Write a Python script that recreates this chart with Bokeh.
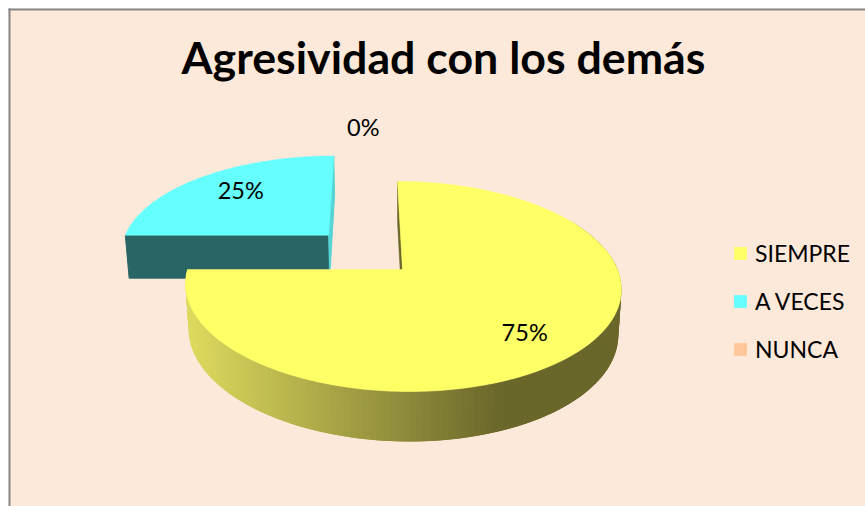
import numpy as np
from bokeh.plotting import figure
from bokeh.models import Range1d, Legend, LegendItem
from bokeh.core.properties import value
from bokeh.embed import file_html
from bokeh.resources import INLINE

# ---- data ----
categories = ["SIEMPRE", "A VECES", "NUNCA"]
values = [75, 25, 0]
labels = ["75%", "25%", "0%"]
title_text = "Agresividad con los demás"

# ---- style ----
top_colors = ["#FFFF66", "#66FFFF", "#FFC799"]
explode = [0.0, 0.5, 0.0]
label_r = [0.757, 0.706, 1.785]
label_shift = [3.6, 2.0, -6.0]
label_lift = 1.6
BG = "#FDE9D9"
FONT = "Lato"

# ---- projection of the tilted pie onto the page ----
CX, CY_T, CY_B = 402.0, 269.0, 313.4
R_T, R_B = 215.0, 212.0
S_T, S_B = 102.25, 106.9
K, SK = 0.162, -5.8


def proj(u, v, bottom=False):
    u, v = np.asarray(u, float), np.asarray(v, float)
    w = 1 + K * v
    R, S, cy = (R_B, S_B, CY_B) if bottom else (R_T, S_T, CY_T)
    return CX + (R * u + SK * v) / w, cy - S * v / w


def ring(deg, u0=0.0, v0=0.0, r=1.0):
    a = np.radians(deg)
    return u0 + r * np.sin(a), v0 + r * np.cos(a)


def side_color(x):
    # shading of the yellow rim, from light (left) to dark (right)
    t = np.clip((x - 190) / (500 - 190), 0, 1)
    c0, c1 = np.array([0xDD, 0xD9, 0x5E]), np.array([0x6A, 0x67, 0x2A])
    c = c0 + (c1 - c0) * t
    return "#%02x%02x%02x" % tuple(int(round(i)) for i in c)


p = figure(width=865, height=506, output_backend="svg", toolbar_location=None,
           x_range=Range1d(0, 865), y_range=Range1d(506, 0),
           min_border=0, background_fill_color="#FFFFFF", border_fill_color="#FFFFFF",
           outline_line_color=None)
p.axis.visible = False
p.grid.visible = False

# chart area with its frame lines along the top and left edge
p.quad(left=[8], right=[865], top=[8], bottom=[506], fill_color=BG, line_color=None)
p.line([8, 865], [9, 9], line_color="#868686", line_width=2)
p.line([9, 9], [8, 506], line_color="#868686", line_width=2)

ends = np.cumsum(values) * 360.0 / np.sum(values)
starts = np.concatenate([[0.0], ends[:-1]])
mids = (starts + ends) / 2
offs = [(e * np.sin(np.radians(m)), e * np.cos(np.radians(m))) for e, m in zip(explode, mids)]

# -- A VECES (behind) --
a0, a1 = starts[1], ends[1]
u0, v0 = offs[1]
ul, vl = ring(a0, u0, v0)
ur, vr = ring(a1, u0, v0)
xs, ys = proj([u0, ul], [v0, vl])
xb, yb = proj([u0, ul], [v0, vl], True)
p.patch(list(xs) + list(xb[::-1]), list(ys) + list(yb[::-1]), fill_color="#2A6565", line_color="#2A6565")
xs, ys = proj([u0, ur], [v0, vr])
xb, yb = proj([u0, ur], [v0, vr], True)
p.patch(list(xs) + list(xb[::-1]), list(ys) + list(yb[::-1]), fill_color="#55D5D5", line_color="#55D5D5")
d = np.linspace(a0, a1, 80)
uu, vv = ring(d, u0, v0)
x, y = proj(np.r_[u0, uu], np.r_[v0, vv])
p.patch(x, y, fill_color=top_colors[1], line_color=top_colors[1], line_width=0.5)

# -- SIEMPRE (front) --
a0, a1 = starts[0], ends[0]
# wall of the starting edge
xs, ys = proj([0, 0], [0, 1])
xb, yb = proj([0, 0], [0, 1], True)
p.patch(list(xs) + list(xb[::-1]), list(ys) + list(yb[::-1]), fill_color="#6A672A", line_color="#6A672A", line_width=0.5)
# rim, as shaded strips that overlap so that no seams show
d = np.linspace(60, a1, 141)
uu, vv = ring(d)
xt, yt = proj(uu, vv)
xb, yb = proj(uu, vv, True)
n = len(d) - 1
qx = [[xt[i], xt[min(i + 2, n)], xb[min(i + 2, n)], xb[i]] for i in range(n)]
qy = [[yt[i], yt[min(i + 2, n)], yb[min(i + 2, n)], yb[i]] for i in range(n)]
qc = [side_color((xt[i] + xt[i + 1]) / 2) for i in range(n)]
p.patches(qx, qy, fill_color=qc, line_color=None)
# top face
d = np.linspace(a0, a1, 240)
uu, vv = ring(d)
x, y = proj(np.r_[0, uu], np.r_[0, vv])
p.patch(x, y, fill_color=top_colors[0], line_color=top_colors[0], line_width=0.5)

# -- data labels --
lx, ly = [], []
for i in range(len(values)):
    uu, vv = ring(mids[i] + label_shift[i], offs[i][0], offs[i][1], label_r[i])
    a, b = proj(uu, vv)
    lx.append(float(a))
    ly.append(float(b) - label_lift)
p.text(lx, ly, text=labels, text_font=value(FONT), text_font_size="23.5px",
       text_color="#000000", text_align="center", text_baseline="middle")

# -- title --
p.text([443], [56.5], text=[title_text], text_font=value(FONT), text_font_style="bold",
       text_font_size="44.7px", text_color="#000000", text_align="center", text_baseline="middle")

# -- legend --
items = []
for c, name in zip(top_colors, categories):
    r = p.quad(left=[np.nan], right=[np.nan], top=[np.nan], bottom=[np.nan], fill_color=c, line_color=None)
    items.append(LegendItem(label=name, renderers=[r]))
leg = Legend(items=items, location=(732, 143), background_fill_alpha=0, border_line_color=None,
             label_text_font=FONT, label_text_font_size="23px", label_text_color="#000000",
             glyph_width=16, glyph_height=16, label_standoff=7, spacing=20, padding=0, margin=0)
p.add_layout(leg, "center")

open("out.html", "w").write(file_html(p, INLINE))
